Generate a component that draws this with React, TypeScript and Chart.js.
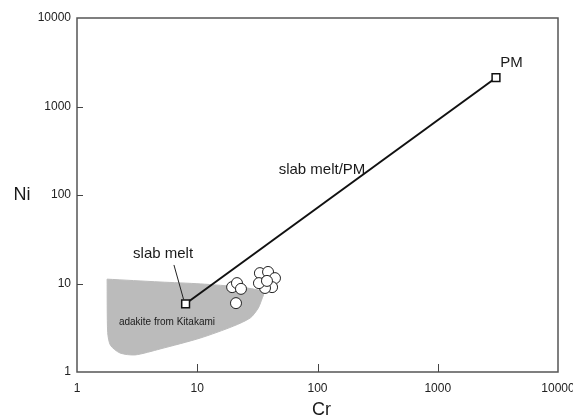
import { useEffect, useRef } from 'react';
import { Chart, registerables } from 'chart.js';

Chart.register(...registerables);

// Axis ticks (log decades)
const crTicks = [1, 10, 100, 1000, 10000];
const niTicks = [1, 10, 100, 1000, 10000];

// Grey field: adakite from Kitakami (closed outline)
const regionCr = [1.78, 4.9, 10.6, 22.8, 34.8, 35.5, 34.8, 32.2, 27.7, 20, 10.6, 4.9, 3.04, 2.28, 1.9, 1.8, 1.78];
const regionNi = [11.2, 10.4, 9.9, 9.1, 8.2, 7.4, 6.9, 5.3, 4.1, 3.3, 2.42, 1.82, 1.56, 1.64, 2.0, 2.8, 11.2];

// Slab melt -> PM mixing line
const mixCr = [8.0, 3050];
const mixNi = [5.9, 2115];

// Leader line for the "slab melt" label
const leaderCr = [6.4, 7.7];
const leaderNi = [16.2, 6.6];

// Adakite samples (open circles)
const sampleCr = [19.5, 21.4, 23.1, 21.0, 33.2, 38.8, 44.3, 41.9, 36.6, 32.6, 38.0];
const sampleNi = [9.1, 10.1, 8.7, 6.0, 13.1, 13.5, 11.5, 9.1, 8.9, 10.1, 10.7];

// Text annotations (anchored in data coordinates)
const labelTexts = ['PM', 'slab melt/PM', 'slab melt', 'adakite from Kitakami'];
const labelCr = [4100, 109, 5.2, 5.6];
const labelNi = [3100, 191, 21.5, 3.67];
const labelSizes = [15, 15, 15, 10];

const FONT = "'Liberation Sans', Arial, Helvetica, sans-serif";

export default function App() {
  const ref = useRef<HTMLCanvasElement>(null);

  useEffect(() => {
    const canvas = ref.current;
    if (!canvas) return;

    const deco = {
      id: 'deco',
      beforeDraw(chart: any) {
        const ctx = chart.ctx;
        ctx.save();
        ctx.fillStyle = '#ffffff';
        ctx.fillRect(0, 0, chart.width, chart.height);
        ctx.restore();
      },
      afterDraw(chart: any) {
        const ctx = chart.ctx;
        const { left, right, top, bottom } = chart.chartArea;
        const xs = chart.scales.x;
        const ys = chart.scales.y;
        ctx.save();
        // box
        ctx.strokeStyle = '#555';
        ctx.lineWidth = 1.5;
        ctx.strokeRect(left, top, right - left, bottom - top);
        // inward ticks
        ctx.lineWidth = 1;
        ctx.strokeStyle = '#444';
        crTicks.slice(1, -1).forEach((v) => {
          const px = Math.round(xs.getPixelForValue(v)) + 0.5;
          ctx.beginPath();
          ctx.moveTo(px, bottom);
          ctx.lineTo(px, bottom - 8);
          ctx.stroke();
        });
        niTicks.slice(1, -1).forEach((v) => {
          const py = Math.round(ys.getPixelForValue(v)) + 0.5;
          ctx.beginPath();
          ctx.moveTo(left, py);
          ctx.lineTo(left + 6, py);
          ctx.stroke();
        });
        // annotations
        ctx.fillStyle = '#1a1a1a';
        ctx.textAlign = 'center';
        ctx.textBaseline = 'middle';
        labelTexts.forEach((t, i) => {
          ctx.font = `${labelSizes[i]}px ${FONT}`;
          ctx.fillText(t, xs.getPixelForValue(labelCr[i]), ys.getPixelForValue(labelNi[i]));
        });
        // axis titles
        ctx.font = `18px ${FONT}`;
        ctx.fillText('Ni', left - 55, ys.getPixelForValue(100));
        ctx.fillText('Cr', (left + right) / 2 + 4, bottom + 38);
        ctx.restore();
      },
    };

    const chart = new Chart(canvas, {
      type: 'scatter',
      data: {
        datasets: [
          {
            label: 'slab melt/PM',
            data: mixCr.map((x, i) => ({ x, y: mixNi[i] })),
            showLine: true,
            borderColor: '#111',
            borderWidth: 2,
            pointStyle: 'rect',
            pointRadius: 5.5,
            pointBackgroundColor: '#fff',
            pointBorderColor: '#111',
            pointBorderWidth: 1.5,
            order: 1,
          },
          {
            label: 'leader',
            data: leaderCr.map((x, i) => ({ x, y: leaderNi[i] })),
            showLine: true,
            borderColor: '#222',
            borderWidth: 1,
            pointRadius: 0,
            order: 2,
          },
          {
            label: 'samples',
            data: sampleCr.map((x, i) => ({ x, y: sampleNi[i] })),
            pointStyle: 'circle',
            pointRadius: 5.5,
            pointBackgroundColor: '#fff',
            pointBorderColor: '#222',
            pointBorderWidth: 1,
            order: 3,
          },
          {
            label: 'adakite from Kitakami',
            data: regionCr.map((x, i) => ({ x, y: regionNi[i] })),
            showLine: true,
            fill: 'shape',
            backgroundColor: '#bbbbbb',
            borderColor: '#bbbbbb',
            borderWidth: 1,
            pointRadius: 0,
            tension: 0.25,
            order: 4,
          } as any,
        ],
      },
      options: {
        responsive: false,
        animation: false,
        devicePixelRatio: 1,
        layout: { padding: { top: 18, right: 15, left: 0, bottom: 0 }, autoPadding: false } as any,
        plugins: {
          legend: { display: false },
          tooltip: { enabled: false },
        },
        scales: {
          x: {
            type: 'logarithmic',
            min: 1,
            max: 10000,
            grid: { display: false, drawTicks: false },
            border: { display: false },
            afterBuildTicks: (s: any) => {
              s.ticks = crTicks.map((v) => ({ value: v }));
            },
            afterFit: (s: any) => {
              s.height = 44;
              s.paddingLeft = 0;
              s.paddingRight = 0;
            },
            ticks: {
              autoSkip: false,
              maxRotation: 0,
              padding: 9,
              color: '#222',
              font: { family: FONT, size: 12 },
              callback: (v: any) => String(v),
            },
          },
          y: {
            type: 'logarithmic',
            min: 1,
            max: 10000,
            grid: { display: false, drawTicks: false },
            border: { display: false },
            afterBuildTicks: (s: any) => {
              s.ticks = niTicks.map((v) => ({ value: v }));
            },
            afterFit: (s: any) => {
              s.width = 77;
              s.paddingTop = 0;
              s.paddingBottom = 0;
            },
            ticks: {
              autoSkip: false,
              padding: 6,
              color: '#222',
              font: { family: FONT, size: 12 },
              callback: (v: any) => String(v),
            },
          },
        },
      },
      plugins: [deco],
    });

    return () => chart.destroy();
  }, []);

  return (
    <canvas
      ref={ref}
      width={573}
      height={416}
      style={{ position: 'absolute', left: 0, top: 0, display: 'block' }}
    />
  );
}
